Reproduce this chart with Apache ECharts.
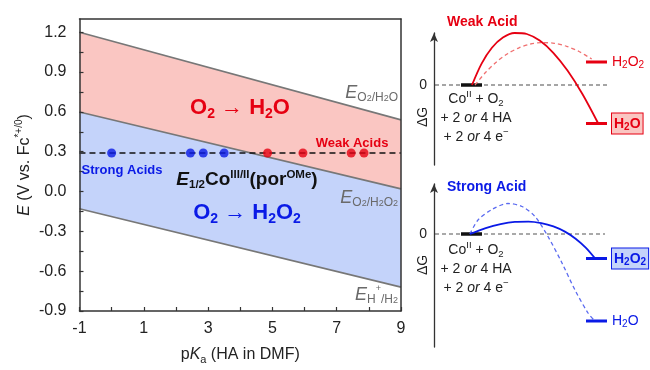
<!DOCTYPE html>
<html><head><meta charset="utf-8">
<script src="https://cdn.jsdelivr.net/npm/echarts@6/dist/echarts.min.js"></script>
<style>html,body{margin:0;padding:0;background:#fff}#c{width:650px;height:370px}</style>
</head><body><div id="c"></div><script>
const FONT = '"Liberation Sans", Arial, Helvetica, sans-serif';

// ---------- Left panel data ----------
const pkaRange = [-1, 9];
const xTickLabels = [-1, 1, 3, 5, 7, 9];
const xTickMarks = [-1, 0, 1, 2, 3, 4, 5, 6, 7, 8, 9];
const yTickLabels = [-0.9, -0.6, -0.3, 0.0, 0.3, 0.6, 0.9, 1.2];
const yTickMarks = [-0.9, -0.75, -0.6, -0.45, -0.3, -0.15, 0, 0.15, 0.3, 0.45, 0.6, 0.75, 0.9, 1.05, 1.2];
const eO2H2O = [1.2, 0.54];      // E(O2/H2O) at pKa -1 and 9
const eO2H2O2 = [0.6, 0.02];     // E(O2/H2O2)
const eHH2 = [-0.13, -0.72];     // E(H+/H2)
const eHalfCo = 0.29;            // E1/2 Co(III/II)
const strongAcidPKa = [0.0, 2.45, 2.85, 3.5];
const weakAcidPKa = [4.85, 5.95, 7.45, 7.85];

// ---------- Right panels (schematic free-energy diagrams) ----------
const zeroLineTop = [0.1, 17.4];
const zeroLineBottom = [0.1, 17.1];
const reactantX = [2.7, 4.8];
const productX = [15.2, 17.3];
const weakH2O2Level = 2.3;
const weakH2OLevel = -3.85;
const strongH2O2Level = -2.45;
const strongH2OLevel = -8.7;
const weakSolid = [[3.8,0],[4.76,2.14],[5.79,3.72],[6.89,4.74],[8.05,5.2],[9.28,5.1],[10.57,4.44],[11.93,3.22],[13.35,1.44],[14.84,-0.9],[16.4,-3.8]];
const weakDashed = [[4.1,0],[5.17,1.27],[6.25,2.31],[7.36,3.13],[8.5,3.72],[9.65,4.1],[10.83,4.24],[12.03,4.17],[13.26,3.87],[14.5,3.35],[15.77,2.6]];
const strongSolid = [[3.6,0],[5.17,0.59],[6.66,0.99],[8.09,1.21],[9.44,1.24],[10.73,1.09],[11.94,0.76],[13.09,0.24],[14.16,-0.47],[15.17,-1.36],[16.1,-2.43]];
const strongDashed = [[3.6,0],[4.4,1.4],[5.8,2.45],[7.4,3.05],[8.8,2.75],[10.1,1.75],[11.4,-0.25],[12.8,-2.9],[14.1,-5.6],[15.4,-7.9],[16.1,-8.7]];

const RED = '#e60012', BLUE = '#0a1ae6', GRAY = '#6a6a6a', LINEGRAY = '#777777';
const PINK = '#fac6c2', LBLUE = '#c4d3fa';

function tk(size, o) { return Object.assign({ fontSize: size, fontFamily: FONT, lineHeight: Math.round(size * 1.2) }, o || {}); }
function sub(size, o) { return Object.assign({ fontSize: size, fontFamily: FONT, lineHeight: size, verticalAlign: 'bottom' }, o || {}); }
function sup(size, o) { return Object.assign({ fontSize: size, fontFamily: FONT, lineHeight: size, verticalAlign: 'top' }, o || {}); }

function band(upper, lower, color) {
  return {
    type: 'custom', xAxisIndex: 0, yAxisIndex: 0, z: 1, silent: true,
    data: [[pkaRange[0], upper[0], lower[0], pkaRange[1], upper[1], lower[1]]],
    encode: { x: [0, 3], y: [1, 2, 4, 5] },
    renderItem: function (params, api) {
      const pts = [
        api.coord([api.value(0), api.value(1)]),
        api.coord([api.value(3), api.value(4)]),
        api.coord([api.value(3), api.value(5)]),
        api.coord([api.value(0), api.value(2)])
      ];
      return { type: 'polygon', shape: { points: pts }, style: { fill: color } };
    }
  };
}
function edge(vals) {
  return { type: 'line', xAxisIndex: 0, yAxisIndex: 0, z: 3, silent: true, symbol: 'none',
    data: [[pkaRange[0], vals[0]], [pkaRange[1], vals[1]]],
    lineStyle: { color: LINEGRAY, width: 1.6 } };
}
// axis index of each right-hand diagram (axes 0,1 belong to the left plot)
function ax(panel) { return panel + 1; }
function rline(panel, data, color, width, type, extra) {
  return Object.assign({ type: 'line', xAxisIndex: ax(panel), yAxisIndex: ax(panel), silent: true, symbol: 'none',
    smooth: 0.3, clip: false, data: data, lineStyle: { color: color, width: width, type: type } }, extra || {});
}
function level(panel, y, color, labelFmt, rich, boxed) {
  const lbl = { show: true, distance: 5, formatter: labelFmt, rich: rich, color: color };
  if (boxed) Object.assign(lbl, { backgroundColor: boxed, borderColor: color, borderWidth: 1, padding: [2, 2, 1, 2] });
  return { type: 'line', xAxisIndex: ax(panel), yAxisIndex: ax(panel), silent: true, symbol: 'none', clip: false,
    data: [[productX[0], y], [productX[1], y]], lineStyle: { color: color, width: 3 }, endLabel: lbl };
}
function mkRich(color, bold) {
  const w = bold ? 'bold' : 'normal';
  return { a: tk(14, { color: color, fontWeight: w, lineHeight: 17 }), s: sub(10, { color: color, fontWeight: w }) };
}
function eRich() {
  return { e: tk(18, { fontStyle: 'italic', fill: GRAY, lineHeight: 21 }), s: sub(12, { fill: GRAY, lineHeight: 14 }),
    t: sub(9, { fill: GRAY, lineHeight: 9 }), u: sup(9, { fill: GRAY, lineHeight: 7 }) };
}

const axisLineStyle = { color: '#333', width: 1.5 };

const option = {
  animation: false,
  backgroundColor: '#fff',
  grid: [
    { left: 75, top: 19, width: 326, height: 297 },
    { left: 434, top: 33, width: 216, height: 132 },
    { left: 434, top: 184, width: 216, height: 163 }
  ],
  xAxis: [
    { type: 'value', gridIndex: 0, min: pkaRange[0], max: pkaRange[1], z: 5,
      axisLine: { show: true, onZero: false, lineStyle: axisLineStyle },
      axisTick: { show: true, inside: true, length: 4, lineStyle: { color: '#333', width: 1.2 }, customValues: xTickMarks },
      axisLabel: { customValues: xTickLabels, fontSize: 16, color: '#222', fontFamily: FONT, margin: 10 },
      splitLine: { show: false },
      name: 'p{i|K}{s|a} (HA in DMF)', nameLocation: 'middle', nameGap: 34,
      nameTextStyle: { fontSize: 16, color: '#222', fontFamily: FONT, lineHeight: 20,
        rich: { i: tk(16, { fontStyle: 'italic', color: '#222', lineHeight: 20 }), s: sub(11, { color: '#222' }) } } },
    { type: 'value', gridIndex: 0, position: 'top', min: pkaRange[0], max: pkaRange[1], z: 5,
      axisLine: { show: true, onZero: false, lineStyle: axisLineStyle }, axisTick: { show: false }, axisLabel: { show: false }, splitLine: { show: false } },
    { type: 'value', gridIndex: 1, min: 0, max: 21.6, show: false },
    { type: 'value', gridIndex: 2, min: 0, max: 21.6, show: false }
  ],
  yAxis: [
    { type: 'value', gridIndex: 0, min: -0.9, max: 1.3, z: 5,
      axisLine: { show: true, onZero: false, lineStyle: axisLineStyle },
      axisTick: { show: true, inside: true, length: 4, lineStyle: { color: '#333', width: 1.2 }, customValues: yTickMarks },
      axisLabel: { customValues: yTickLabels, fontSize: 16, color: '#222', fontFamily: FONT, margin: 13,
        formatter: function (v) { return v.toFixed(1); } },
      splitLine: { show: false },
      name: '{i|E} (V vs. Fc{p|*+/0})', nameLocation: 'middle', nameGap: 45,
      nameTextStyle: { fontSize: 16, color: '#222', fontFamily: FONT, lineHeight: 20,
        rich: { i: tk(16, { fontStyle: 'italic', color: '#222', lineHeight: 20 }), p: sup(10, { color: '#222' }) } } },
    { type: 'value', gridIndex: 0, position: 'right', min: -0.9, max: 1.3, z: 5,
      axisLine: { show: true, onZero: false, lineStyle: axisLineStyle }, axisTick: { show: false }, axisLabel: { show: false }, splitLine: { show: false } },
    { type: 'value', gridIndex: 1, min: -8, max: 5.2, z: 5,
      axisLine: { show: true, onZero: false, symbol: ['none', 'arrow'], symbolSize: [6, 9], lineStyle: { color: '#333', width: 1.3 } },
      axisTick: { show: false }, splitLine: { show: false },
      axisLabel: { customValues: [0], fontSize: 14, color: '#222', fontFamily: FONT, margin: 7 } },
    { type: 'value', gridIndex: 2, min: -11.3, max: 5, z: 5,
      axisLine: { show: true, onZero: false, symbol: ['none', 'arrow'], symbolSize: [6, 9], lineStyle: { color: '#333', width: 1.3 } },
      axisTick: { show: false }, splitLine: { show: false },
      axisLabel: { customValues: [0], fontSize: 14, color: '#222', fontFamily: FONT, margin: 7 } }
  ],
  series: [
    band(eO2H2O, eO2H2O2, PINK),
    band(eO2H2O2, eHH2, LBLUE),
    edge(eO2H2O), edge(eO2H2O2), edge(eHH2),
    { type: 'line', xAxisIndex: 0, yAxisIndex: 0, z: 4, silent: true, symbol: 'none',
      data: [[pkaRange[0], eHalfCo], [pkaRange[1], eHalfCo]], lineStyle: { color: '#111', width: 1.6, type: [6, 4] } },
    { type: 'scatter', xAxisIndex: 0, yAxisIndex: 0, z: 6, silent: true, symbolSize: 9,
      data: strongAcidPKa.map(function (p) { return [p, eHalfCo]; }), itemStyle: { color: BLUE } },
    { type: 'scatter', xAxisIndex: 0, yAxisIndex: 0, z: 6, silent: true, symbolSize: 9,
      data: weakAcidPKa.map(function (p) { return [p, eHalfCo]; }), itemStyle: { color: RED } },

    // top diagram (weak acid)
    rline(1, [[zeroLineTop[0], 0], [zeroLineTop[1], 0]], '#888', 1.3, [4, 3], { smooth: false }),
    rline(1, [[reactantX[0], 0], [reactantX[1], 0]], '#111', 3.5, 'solid', { smooth: false }),
    rline(1, weakDashed, '#f07070', 1.3, [4, 3]),
    rline(1, weakSolid, RED, 1.8, 'solid'),
    level(1, weakH2O2Level, RED, '{a|H}{s|2}{a|O}{s|2}', mkRich(RED, false), null),
    level(1, weakH2OLevel, RED, '{a|H}{s|2}{a|O}', mkRich(RED, true), PINK),

    // bottom diagram (strong acid)
    rline(2, [[zeroLineBottom[0], 0], [zeroLineBottom[1], 0]], '#555', 1.2, [4, 3], { smooth: false }),
    rline(2, [[reactantX[0], 0], [reactantX[1], 0]], '#111', 3.5, 'solid', { smooth: false }),
    rline(2, strongDashed, '#5a6af0', 1.3, [4, 3]),
    rline(2, strongSolid, BLUE, 1.8, 'solid'),
    level(2, strongH2O2Level, BLUE, '{a|H}{s|2}{a|O}{s|2}', mkRich(BLUE, true), LBLUE),
    level(2, strongH2OLevel, BLUE, '{a|H}{s|2}{a|O}', mkRich(BLUE, false), null)
  ],
  graphic: [
    // left plot annotations
    { type: 'text', x: 240, y: 108, z: 20, silent: true,
      style: { text: '{b|O}{s|2}{b| → H}{s|2}{b|O}', align: 'center', verticalAlign: 'middle', textAlign: 'center', textVerticalAlign: 'middle',
        rich: { b: tk(22, { fontWeight: 'bold', fill: RED, color: RED, lineHeight: 26 }), s: sub(14, { fontWeight: 'bold', fill: RED, color: RED, lineHeight: 13 }) } } },
    { type: 'text', x: 247, y: 213, z: 20, silent: true,
      style: { text: '{b|O}{s|2}{b| → H}{s|2}{b|O}{s|2}', align: 'center', verticalAlign: 'middle', textAlign: 'center', textVerticalAlign: 'middle',
        rich: { b: tk(22, { fontWeight: 'bold', fill: BLUE, color: BLUE, lineHeight: 26 }), s: sub(14, { fontWeight: 'bold', fill: BLUE, color: BLUE, lineHeight: 13 }) } } },
    { type: 'text', x: 352, y: 143, z: 20, silent: true,
      style: { text: 'Weak Acids', fill: RED, font: 'bold 13px ' + FONT, align: 'center', verticalAlign: 'middle', textAlign: 'center', textVerticalAlign: 'middle' } },
    { type: 'text', x: 122, y: 170, z: 20, silent: true,
      style: { text: 'Strong Acids', fill: BLUE, font: 'bold 13px ' + FONT, align: 'center', verticalAlign: 'middle', textAlign: 'center', textVerticalAlign: 'middle' } },
    { type: 'text', x: 247, y: 180, z: 20, silent: true,
      style: { text: '{e|E}{s|1/2}{c|Co}{p|III/II}{c|(por}{p|OMe}{c|)}', align: 'center', verticalAlign: 'middle', textAlign: 'center', textVerticalAlign: 'middle',
        rich: { e: tk(19, { fontWeight: 'bold', fontStyle: 'italic', fill: '#111', lineHeight: 22 }), c: tk(19, { fontWeight: 'bold', fill: '#111', lineHeight: 22 }),
          s: sub(11.5, { fontWeight: 'bold', fill: '#111', lineHeight: 11 }), p: sup(11.5, { fontWeight: 'bold', fill: '#111', lineHeight: 11 }) } } },
    { type: 'text', x: 398, y: 93, z: 20, silent: true,
      style: { text: '{e|E}{s|O}{t|2}{s|/H}{t|2}{s|O}', align: 'right', verticalAlign: 'middle', textAlign: 'right', textVerticalAlign: 'middle', rich: eRich() } },
    { type: 'text', x: 398, y: 198, z: 20, silent: true,
      style: { text: '{e|E}{s|O}{t|2}{s|/H}{t|2}{s|O}{t|2}', align: 'right', verticalAlign: 'middle', textAlign: 'right', textVerticalAlign: 'middle', rich: eRich() } },
    { type: 'text', x: 398, y: 295, z: 20, silent: true,
      style: { text: '{e|E}{s|H}{u|+}{s|/H}{t|2}', align: 'right', verticalAlign: 'middle', textAlign: 'right', textVerticalAlign: 'middle', rich: eRich() } },

    // right panel annotations
    { type: 'text', x: 447, y: 22, silent: true,
      style: { text: 'Weak Acid', fill: RED, font: 'bold 14px ' + FONT, align: 'left', verticalAlign: 'middle', textAlign: 'left', textVerticalAlign: 'middle' } },
    { type: 'text', x: 447, y: 187, silent: true,
      style: { text: 'Strong Acid', fill: BLUE, font: 'bold 14px ' + FONT, align: 'left', verticalAlign: 'middle', textAlign: 'left', textVerticalAlign: 'middle' } },
    { type: 'text', x: 423, y: 117, rotation: Math.PI / 2, silent: true,
      style: { text: 'ΔG', fill: '#222', font: '14px ' + FONT, align: 'center', verticalAlign: 'middle', textAlign: 'center', textVerticalAlign: 'middle' } },
    { type: 'text', x: 423, y: 265, rotation: Math.PI / 2, silent: true,
      style: { text: 'ΔG', fill: '#222', font: '14px ' + FONT, align: 'center', verticalAlign: 'middle', textAlign: 'center', textVerticalAlign: 'middle' } },
    { type: 'text', x: 476, y: 118, silent: true,
      style: { text: '{n|Co}{p|II}{n| + O}{s|2}\n{n|+ 2 }{i|or}{n| 4 HA}\n{n|+ 2 }{i|or}{n| 4 e}{p|−}', align: 'center', verticalAlign: 'middle', textAlign: 'center', textVerticalAlign: 'middle',
        rich: { n: tk(14, { fill: '#222', lineHeight: 19 }), i: tk(14, { fill: '#222', fontStyle: 'italic', lineHeight: 19 }), s: sub(9.5, { fill: '#222', lineHeight: 12 }), p: sup(9.5, { fill: '#222', lineHeight: 12 }) } } },
    { type: 'text', x: 476, y: 269, silent: true,
      style: { text: '{n|Co}{p|II}{n| + O}{s|2}\n{n|+ 2 }{i|or}{n| 4 HA}\n{n|+ 2 }{i|or}{n| 4 e}{p|−}', align: 'center', verticalAlign: 'middle', textAlign: 'center', textVerticalAlign: 'middle',
        rich: { n: tk(14, { fill: '#222', lineHeight: 19 }), i: tk(14, { fill: '#222', fontStyle: 'italic', lineHeight: 19 }), s: sub(9.5, { fill: '#222', lineHeight: 12 }), p: sup(9.5, { fill: '#222', lineHeight: 12 }) } } }
  ]
};
const chart = echarts.init(document.getElementById('c'));
chart.setOption(option);
</script></body></html>
